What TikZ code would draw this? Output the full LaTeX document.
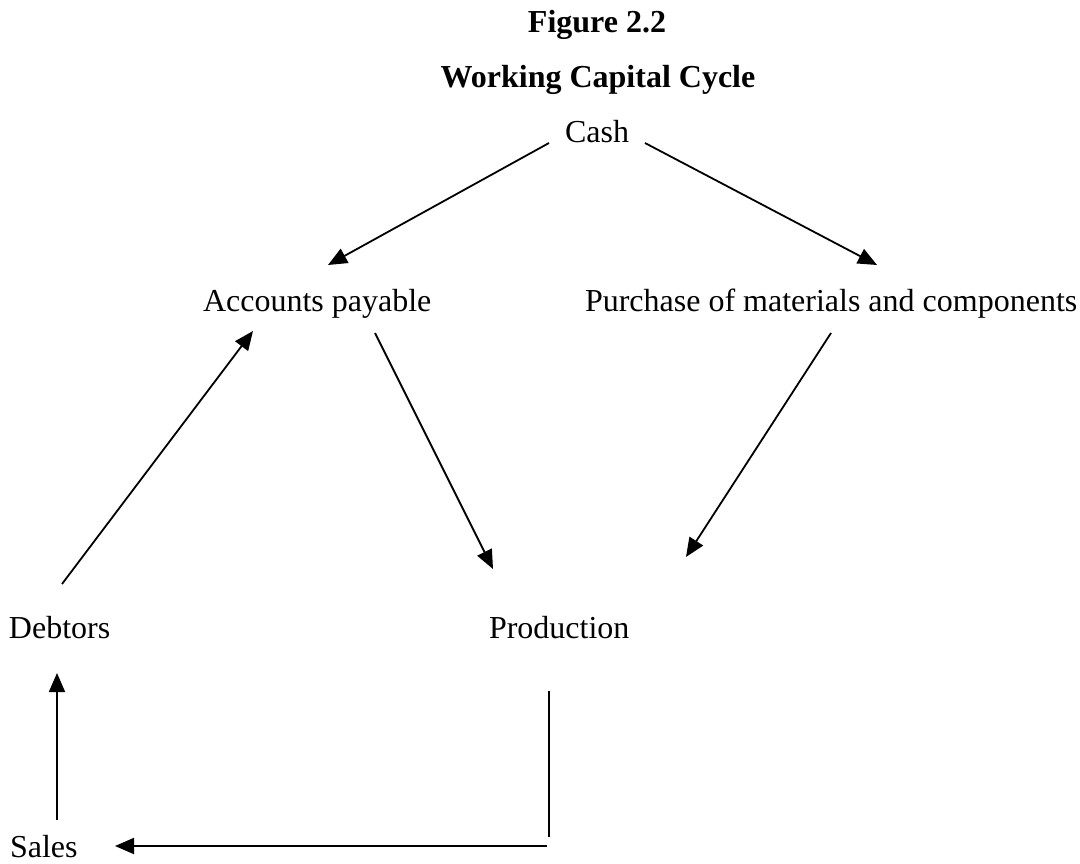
\documentclass[tikz,border=0pt]{standalone}
\usepackage{fontspec}
\setmainfont{Liberation Serif}
\usetikzlibrary{arrows.meta}
\begin{document}
\begin{tikzpicture}[x=1pt,y=-1pt,
  lbl/.style={inner sep=0pt,outer sep=0pt,anchor=base west,font=\fontsize{32}{38}\selectfont},
  ttl/.style={inner sep=0pt,outer sep=0pt,anchor=base,font=\fontsize{32}{38}\selectfont\bfseries},
  conn/.style={line width=1.8pt,black},
  arr/.style={conn,-{Triangle[length=19pt,width=16pt]}}]
\useasboundingbox (0,0) rectangle (1080,863);
\fill[white] (0,0) rectangle (1080,863);
% titles
\node[ttl] (fig) at (597,32) {Figure 2.2};
\node[ttl] (wcc) at (598,87) {Working Capital Cycle};
% labels
\node[lbl] (cash) at (565,142) {Cash};
\node[lbl] (ap) at (203,311) {Accounts payable};
\node[lbl] (pur) at (585,311) {Purchase of materials and components};
\node[lbl] (deb) at (9,638) {Debtors};
\node[lbl] (prod) at (489,638) {Production};
\node[lbl] (sales) at (10,857) {Sales};
% connector end points
\coordinate (cashL) at (549,143);
\coordinate (cashR) at (645,143);
\coordinate (apIn) at (328,265);
\coordinate (purIn) at (877,265);
\coordinate (debOut) at (62,584);
\coordinate (apIn2) at (253,331);
\coordinate (apOut) at (375,333);
\coordinate (prodIn) at (493,569);
\coordinate (purOut) at (831,333);
\coordinate (prodIn2) at (686,557);
\coordinate (salesOut) at (57,820);
\coordinate (debIn) at (57,673);
\coordinate (prodOutT) at (549,691);
\coordinate (prodOutB) at (549,837);
\coordinate (hStart) at (547,846);
\coordinate (salesIn) at (115,846);
% connectors
\draw[arr] (cashL) -- (apIn);
\draw[arr] (cashR) -- (purIn);
\draw[arr] (debOut) -- (apIn2);
\draw[arr] (apOut) -- (prodIn);
\draw[arr] (purOut) -- (prodIn2);
\draw[arr] (salesOut) -- (debIn);
\draw[conn] (prodOutT) -- (prodOutB);
\draw[arr] (hStart) -- (salesIn);
\end{tikzpicture}
\end{document}
